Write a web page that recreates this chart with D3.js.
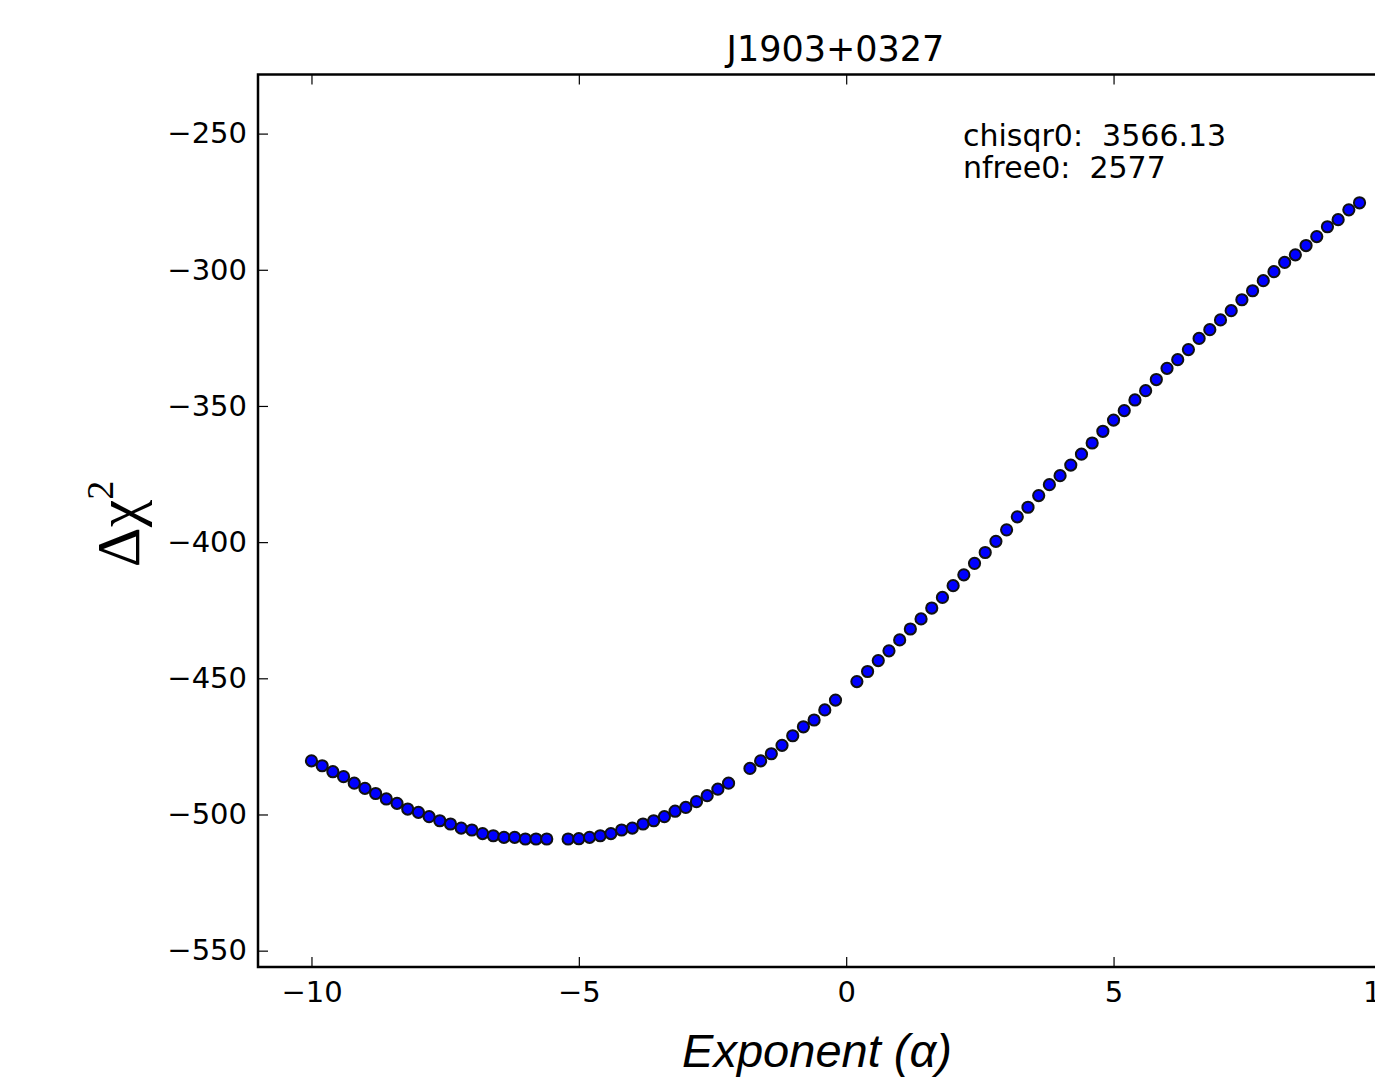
<!DOCTYPE html>
<html>
<head>
<meta charset="utf-8">
<script src="https://cdn.jsdelivr.net/npm/d3@7"></script>
<style>
  body { margin: 0; background: #fff; }
  svg { display: block; }
  text { fill: #000; }
</style>
</head>
<body>
<div id="chart"></div>
<script>
// data
const alphaValues = [
  -10.0, -9.8, -9.6, -9.4, -9.2, -9.0, -8.8, -8.6, -8.4, -8.2,
  -8.0, -7.8, -7.6, -7.4, -7.2, -7.0, -6.8, -6.6, -6.4, -6.2,
  -6.0, -5.8, -5.6, -5.2, -5.0, -4.8, -4.6, -4.4, -4.2, -4.0,
  -3.8, -3.6, -3.4, -3.2, -3.0, -2.8, -2.6, -2.4, -2.2, -1.8,
  -1.6, -1.4, -1.2, -1.0, -0.8, -0.6, -0.4, -0.2, 0.2, 0.4,
  0.6, 0.8, 1.0, 1.2, 1.4, 1.6, 1.8, 2.0, 2.2, 2.4,
  2.6, 2.8, 3.0, 3.2, 3.4, 3.6, 3.8, 4.0, 4.2, 4.4,
  4.6, 4.8, 5.0, 5.2, 5.4, 5.6, 5.8, 6.0, 6.2, 6.4,
  6.6, 6.8, 7.0, 7.2, 7.4, 7.6, 7.8, 8.0, 8.2, 8.4,
  8.6, 8.8, 9.0, 9.2, 9.4, 9.6
];
const deltaChi2 = [
  -480.3, -482.1, -484.3, -486.1, -488.5, -490.4, -492.3, -494.3, -495.9, -498.0,
  -499.2, -500.8, -502.3, -503.5, -505.0, -505.7, -507.0, -507.8, -508.4, -508.4,
  -509.0, -509.0, -509.0, -509.0, -508.9, -508.4, -507.8, -507.0, -505.7, -505.0,
  -503.5, -502.3, -500.8, -498.8, -497.4, -495.3, -493.1, -490.7, -488.5, -483.1,
  -480.3, -477.7, -474.6, -471.1, -467.8, -465.3, -461.6, -458.0, -451.2, -447.5,
  -443.5, -439.9, -435.9, -431.9, -428.2, -424.2, -420.3, -416.0, -412.0, -407.8,
  -403.8, -399.7, -395.5, -390.7, -387.2, -382.9, -378.9, -375.6, -371.7, -367.7,
  -363.6, -359.3, -355.2, -351.7, -347.8, -344.4, -340.3, -336.2, -333.0, -329.3,
  -325.2, -322.0, -318.4, -315.0, -311.0, -307.7, -304.0, -300.7, -297.3, -294.5,
  -291.1, -287.8, -284.2, -281.6, -278.0, -275.4
];
const xTicks = [-10, -5, 0, 5, 10];
const yTicks = [-250, -300, -350, -400, -450, -500, -550];
const xLimits = [-11, 10.6];
const yLimits = [-556.0, -228.3];
const titleText = 'J1903+0327';
const infoLines = ['chisqr0:  3566.13', 'nfree0:  2577'];

const width = 1375, height = 1077;
const margin = {top: 74.5, left: 258, bottom: 967, right: 1413};

const svg = d3.select('#chart').append('svg')
  .attr('width', width)
  .attr('height', height);

const x = d3.scaleLinear().domain(xLimits).range([margin.left, margin.right]);
const y = d3.scaleLinear().domain(yLimits).range([margin.bottom, margin.top]);

const tickLen = 10;
const tickFont = '29px "DejaVu Sans"';
const minus = d => d3.format('')(d).replace('-', '\u2212');

// points
const pts = alphaValues.map((a, i) => ({a, v: deltaChi2[i]}));
svg.append('g')
  .selectAll('circle')
  .data(pts)
  .enter()
  .append('circle')
  .attr('cx', d => x(d.a))
  .attr('cy', d => y(d.v))
  .attr('r', 5.6)
  .attr('fill', '#0000ff')
  .attr('stroke', '#111')
  .attr('stroke-width', 2);

// inward ticks on all sides (matplotlib classic look)
const bottomAxis = d3.axisBottom(x).tickValues(xTicks).tickSize(-tickLen).tickPadding(14).tickFormat(minus);
const topAxis = d3.axisTop(x).tickValues(xTicks).tickSize(-tickLen).tickFormat('');
const leftAxis = d3.axisLeft(y).tickValues(yTicks).tickSize(-tickLen).tickPadding(11).tickFormat(minus);
const rightAxis = d3.axisRight(y).tickValues(yTicks).tickSize(-tickLen).tickFormat('');

function styleAxis(g) {
  g.select('.domain').remove();
  g.selectAll('.tick line').attr('stroke', '#000').attr('stroke-width', 1.2);
  g.selectAll('.tick text').style('font', tickFont).attr('fill', '#111');
}

svg.append('g').attr('transform', `translate(0,${margin.bottom})`).call(bottomAxis).call(styleAxis);
svg.append('g').attr('transform', `translate(0,${margin.top})`).call(topAxis).call(styleAxis);
svg.append('g').attr('transform', `translate(${margin.left},0)`).call(leftAxis).call(styleAxis);
svg.append('g').attr('transform', `translate(${margin.right},0)`).call(rightAxis).call(styleAxis);

// frame
svg.append('rect')
  .attr('x', margin.left)
  .attr('y', margin.top)
  .attr('width', margin.right - margin.left)
  .attr('height', margin.bottom - margin.top)
  .attr('fill', 'none')
  .attr('stroke', '#000')
  .attr('stroke-width', 2.5);

// title
svg.append('text')
  .attr('x', (margin.left + margin.right) / 2)
  .attr('y', margin.top - 14)
  .attr('text-anchor', 'middle')
  .style('font', '35px "DejaVu Sans"')
  .attr('fill', '#111')
  .text(titleText);

// info text
svg.append('g').selectAll('text')
  .data(infoLines)
  .enter()
  .append('text')
  .attr('x', 963)
  .attr('y', (d, i) => 146 + i * 32)
  .style('font', '30px "DejaVu Sans"')
  .style('white-space', 'pre')
  .attr('fill', '#111')
  .text(d => d);

// axis labels
svg.append('text')
  .attr('x', 817)
  .attr('y', 1067)
  .attr('text-anchor', 'middle')
  .style('font', 'italic 47px "Liberation Sans"')
  .text('Exponent (\u03b1)');

const yLab = svg.append('text')
  .attr('transform', 'translate(139,524) rotate(-90)')
  .attr('text-anchor', 'middle')
  .style('font', '62px "Liberation Serif"');
yLab.append('tspan').text('\u0394\u03c7');
yLab.append('tspan').attr('dy', -26).style('font-size', '38px').text('2');
</script>
</body>
</html>
